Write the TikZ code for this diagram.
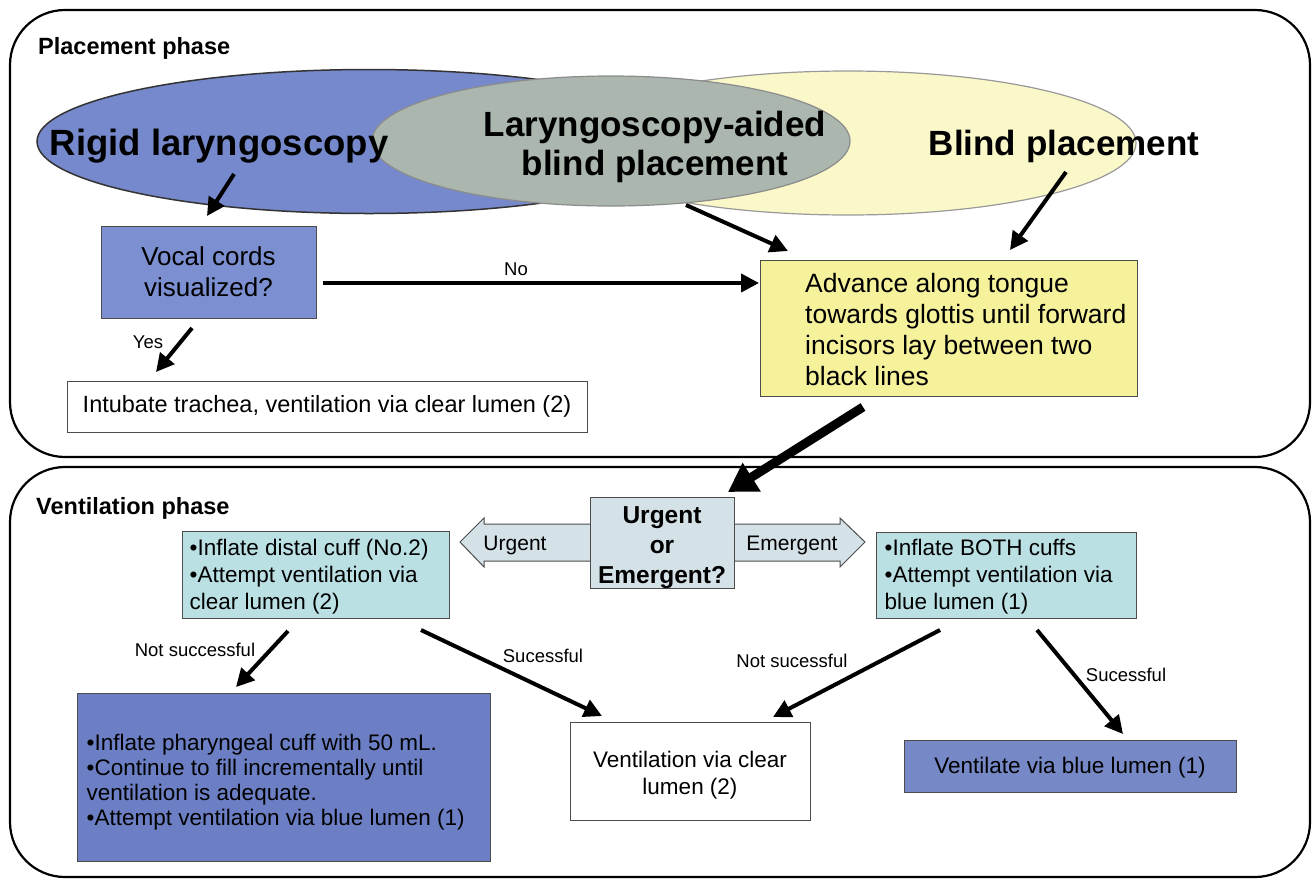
\documentclass[tikz,border=0pt]{standalone}
\usepackage{fontspec}
\setmainfont{Liberation Sans}
\usetikzlibrary{arrows.meta}
\definecolor{rigidblue}{RGB}{118,137,204}
\definecolor{boxblue}{RGB}{124,143,208}
\definecolor{darkblue}{RGB}{108,127,196}
\definecolor{grayel}{RGB}{170,182,174}
\definecolor{paleyel}{RGB}{250,247,200}
\definecolor{advyel}{RGB}{246,242,155}
\definecolor{tealbox}{RGB}{186,224,228}
\definecolor{urgfill}{RGB}{212,225,231}
\begin{document}
\begin{tikzpicture}[x=1pt,y=-1pt,
  panel/.style={draw=black, line width=2.2pt, rounded corners=55pt},
  flowbox/.style={draw=black!70, line width=1pt, inner sep=0pt},
  arr/.style={line width=4pt, -{Triangle[length=18pt,width=18pt]}},
  bigarr/.style={line width=9pt, -{Triangle[length=28pt,width=32pt]}},
  lbl/.style={font=\fontsize{18.5}{22}\selectfont, inner sep=0pt},
  bigtxt/.style={font=\bfseries\fontsize{35}{39}\selectfont, inner sep=0pt, align=center},
  phase/.style={font=\bfseries\fontsize{23.5}{27}\selectfont, inner sep=0pt, anchor=west},
  bultxt/.style={font=\fontsize{22.5}{27}\selectfont, inner sep=0pt, align=left, anchor=west},
  ]
\useasboundingbox (0,0) rectangle (1313,879);
% panels
\draw[panel] (10,10) rectangle (1310,457);
\draw[panel] (10,467) rectangle (1310,877);
\node[phase] (placephase) at (38,48) {Placement phase};
\node[phase] (ventphase) at (36,508) {Ventilation phase};
% ellipses
\path[draw=black!40, fill=paleyel, line width=1.2pt] (848,143) ellipse [x radius=288, y radius=72];
\path[draw=black!80, fill=rigidblue, line width=1.5pt] (369,141.5) ellipse [x radius=332, y radius=72];
\path[draw=black!45, fill=grayel, line width=1.2pt] (611,141) ellipse [x radius=239, y radius=65];
\node[bigtxt, font=\bfseries\fontsize{36.5}{39}\selectfont] (rigid) at (219,146) {Rigid laryngoscopy};
\node[bigtxt] (lab) at (655,147) {Laryngoscopy-aided\\blind placement};
\node[bigtxt] (blind) at (1064,146) {Blind placement};
% placement boxes
\node[flowbox, fill=boxblue, minimum width=215pt, minimum height=92pt, align=center,
      font=\fontsize{26}{31}\selectfont] (vocal) at (208.5,272) {Vocal cords\\visualized?};
\node[flowbox, fill=white, minimum width=520pt, minimum height=51pt,
      font=\fontsize{23.5}{27}\selectfont] (intub) at (327,406.5) {Intubate trachea, ventilation via clear lumen (2)};
\node[flowbox, fill=advyel, minimum width=377pt, minimum height=136pt] (adv) at (949,328) {};
\node[bultxt, font=\fontsize{26.5}{31}\selectfont] (advtxt) at ([xshift=45pt,yshift=-2pt]adv.west)
  {Advance along tongue\\towards glottis until forward\\incisors lay between two\\black lines};
% urgent double arrow
\path[draw=black!70, fill=urgfill, line width=1pt] (460,542) -- (484,518) -- (484,524) -- (840,524)
  -- (840,518) -- (865,542) -- (840,567) -- (840,561) -- (484,561) -- (484,567) -- cycle;
\node[flowbox, fill=urgfill, minimum width=144pt, minimum height=91pt] (urg) at (662,542.5) {};
\node[align=center, inner sep=0pt, font=\bfseries\fontsize{24.5}{30}\selectfont] (urgtxt) at (662,548) {Urgent\\or\\Emergent?};
\node[font=\fontsize{21}{25}\selectfont, inner sep=0pt] (urglbl) at (515,545) {Urgent};
\node[font=\fontsize{21}{25}\selectfont, inner sep=0pt] (emlbl) at (792,545) {Emergent};
% ventilation boxes
\node[flowbox, fill=tealbox, minimum width=267pt, minimum height=87pt] (distal) at (315.5,574.5) {};
\node[bultxt] (distaltxt) at ([xshift=8pt,yshift=-2pt]distal.west) {•Inflate distal cuff (No.2)\\•Attempt ventilation via\\clear lumen (2)};
\node[flowbox, fill=tealbox, minimum width=260pt, minimum height=86pt] (both) at (1006,575) {};
\node[bultxt] (bothtxt) at ([xshift=9pt,yshift=-2pt]both.west) {•Inflate BOTH cuffs\\•Attempt ventilation via\\blue lumen (1)};
\node[flowbox, fill=darkblue, minimum width=413pt, minimum height=168pt] (phar) at (283.5,777) {};
\node[bultxt, font=\fontsize{22.5}{25}\selectfont] (phartxt) at ([xshift=10pt,yshift=-5pt]phar.west)
  {•Inflate pharyngeal cuff with 50 mL.\\•Continue to fill incrementally until\\ventilation is adequate.\\•Attempt ventilation via blue lumen (1)};
\node[flowbox, fill=white, minimum width=240pt, minimum height=98pt] (clear) at (690,771) {};
\node[align=center, inner sep=0pt, font=\fontsize{22.5}{27}\selectfont] (cleartxt) at (690,775) {Ventilation via clear\\lumen (2)};
\node[flowbox, fill=boxblue!95!black, minimum width=332pt, minimum height=52pt,
      font=\fontsize{22.5}{27}\selectfont] (ventblue) at (1070,766) {};
\node[inner sep=0pt, font=\fontsize{22.5}{27}\selectfont] (ventbluetxt) at (1070,768) {Ventilate via blue lumen (1)};
% arrow coordinates
\coordinate (r1) at (234,174);  \coordinate (r2) at (207,216);
\coordinate (n1) at (323,283);  \coordinate (n2) at (759,283);
\coordinate (y1) at (192,328);  \coordinate (y2) at (156,372);
\coordinate (l1) at (686,205);  \coordinate (l2) at (788,251);
\coordinate (b1) at (1066,172); \coordinate (b2) at (1010,250);
\coordinate (t1) at (863,407);  \coordinate (t2) at (728,492);
\coordinate (d1) at (288,631);  \coordinate (d2) at (236,687);
\coordinate (s1) at (421,630);  \coordinate (s2) at (602,716);
\coordinate (e1) at (940,630);  \coordinate (e2) at (773,717);
\coordinate (f1) at (1037,630); \coordinate (f2) at (1123,734);
\draw[arr] (r1) -- (r2);
\draw[arr] (n1) -- (n2);
\draw[arr] (y1) -- (y2);
\draw[arr] (l1) -- (l2);
\draw[arr] (b1) -- (b2);
\draw[bigarr] (t1) -- (t2);
\draw[arr] (d1) -- (d2);
\draw[arr] (s1) -- (s2);
\draw[arr] (e1) -- (e2);
\draw[arr] (f1) -- (f2);
% labels
\node[lbl] (nolbl) at (516,269) {No};
\node[lbl] (yeslbl) at (148,342) {Yes};
\node[lbl] (nslbl) at (195,650) {Not successful};
\node[lbl] (slbl) at (543,656) {Sucessful};
\node[lbl] (ns2lbl) at (792,661) {Not sucessful};
\node[lbl] (s2lbl) at (1126,675) {Sucessful};
\end{tikzpicture}
\end{document}
